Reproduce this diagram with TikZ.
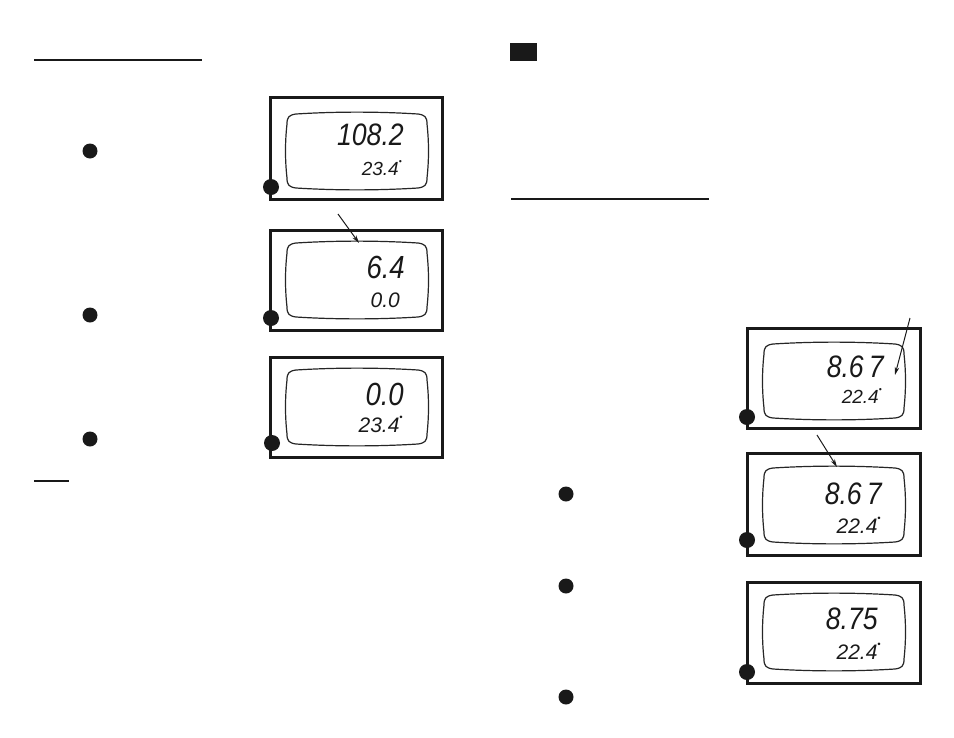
\documentclass[tikz,border=0pt]{standalone}
\usepackage{fontspec}
\setmainfont{Liberation Sans}
\newfontfamily\lcdbig[FakeStretch=0.86]{Liberation Sans}
\newfontfamily\lcdsmall{Liberation Sans}
\usetikzlibrary{arrows.meta}
\tikzset{
  frame/.style={draw=black!90, line width=3pt},
  scr/.style={draw=black!85, line width=1.2pt},
  bigd/.style={font=\lcdbig\itshape\fontsize{#1}{#1}\selectfont, inner sep=0pt, anchor=base east, text=black!90},
  smd/.style={font=\lcdsmall\itshape\fontsize{#1}{#1}\selectfont, inner sep=0pt, anchor=base east, text=black!90},
  rule/.style={draw=black!90, line width=1.4pt},
  bul/.style={circle, fill=black!90, inner sep=0pt, minimum size=15pt},
  pt/.style={circle, fill=black!90, inner sep=0pt, minimum size=16pt},
  ptr/.style={draw=black!90, line width=1pt, -{Stealth[length=8pt,width=4.5pt]}},
  screen/.pic={
    \path[scr] (10,2) .. controls (50,-0.5) and (92,-0.5) .. (132,2)
      .. controls (139,3) and (141,5) .. (141,12)
      .. controls (143,30) and (143,48) .. (141,66)
      .. controls (141,73) and (139,75) .. (132,76)
      .. controls (92,78.5) and (50,78.5) .. (10,76)
      .. controls (3,75) and (1,73) .. (1,66)
      .. controls (-1,48) and (-1,30) .. (1,12)
      .. controls (1,5) and (3,3) .. (10,2) -- cycle;
  }
}
\newcommand{\dg}{\raisebox{0.55em}{\scalebox{0.45}{•}}}
\begin{document}
\begin{tikzpicture}[x=1pt,y=-1pt]
\useasboundingbox (0,0) rectangle (954,737);
% header rules and marker box
\draw[rule] (34,60) coordinate (r1a) -- (202,60) coordinate (r1b);
\draw[rule] (34,481) coordinate (r2a) -- (69,481) coordinate (r2b);
\draw[rule] (511,199) coordinate (r3a) -- (709,199) coordinate (r3b);
\node[fill=black!90, minimum width=27pt, minimum height=18pt, inner sep=0pt] (tag) at (523.5,52) {};
% left bullets
\node[bul] (b1) at (90,151) {};
\node[bul] (b2) at (90,315) {};
\node[bul] (b3) at (90,439) {};
% right bullets
\node[bul] (b4) at (566,494) {};
\node[bul] (b5) at (566,586) {};
\node[bul] (b6) at (566,697) {};

% ---------- Display 1
\draw[frame] (270,97) rectangle (442,199);
\pic at (286,112) {screen};
\node[bigd=31] (d1a) at (404,145) {108.2};
\node[smd=19] (d1b) at (402,175) {23.4\dg};
\node[pt] (p1) at (271,187) {};
% ---------- Display 2
\draw[frame] (270,230) rectangle (442,330);
\pic at (286,241) {screen};
\node[bigd=32] (d2a) at (405,278) {6.4};
\node[smd=21] (d2b) at (400,307) {0.0};
\node[pt] (p2) at (271,318) {};
\coordinate (a2s) at (338,214);
\coordinate (a2e) at (359,243);
\draw[ptr] (a2s) -- (a2e);
% ---------- Display 3
\draw[frame] (270,357) rectangle (442,457);
\pic at (286,368) {screen};
\node[bigd=32] (d3a) at (404,405) {0.0};
\node[smd=21] (d3b) at (403,432) {23.4\dg};
\node[pt] (p3) at (272,443) {};

% ---------- Display 4
\draw[frame] (747,328) rectangle (920,428);
\pic at (763,342) {screen};
\node[bigd=31] (d4a) at (884,377) {8.6\,7};
\node[smd=19] (d4b) at (882,403) {22.4\dg};
\node[pt] (p4) at (747,417) {};
\coordinate (a4s) at (910,318);
\coordinate (a4e) at (895,375);
\draw[ptr] (a4s) -- (a4e);
% ---------- Display 5
\draw[frame] (747,453) rectangle (920,555);
\pic at (763,466) {screen};
\node[bigd=31] (d5a) at (882,504) {8.6\,7};
\node[smd=21] (d5b) at (881,533) {22.4\dg};
\node[pt] (p5) at (747,540) {};
\coordinate (a5s) at (817,435);
\coordinate (a5e) at (837,467);
\draw[ptr] (a5s) -- (a5e);
% ---------- Display 6
\draw[frame] (747,582) rectangle (920,683);
\pic at (763,593) {screen};
\node[bigd=31] (d6a) at (878,629) {8.75};
\node[smd=21] (d6b) at (881,659) {22.4\dg};
\node[pt] (p6) at (747,672) {};
\end{tikzpicture}
\end{document}
